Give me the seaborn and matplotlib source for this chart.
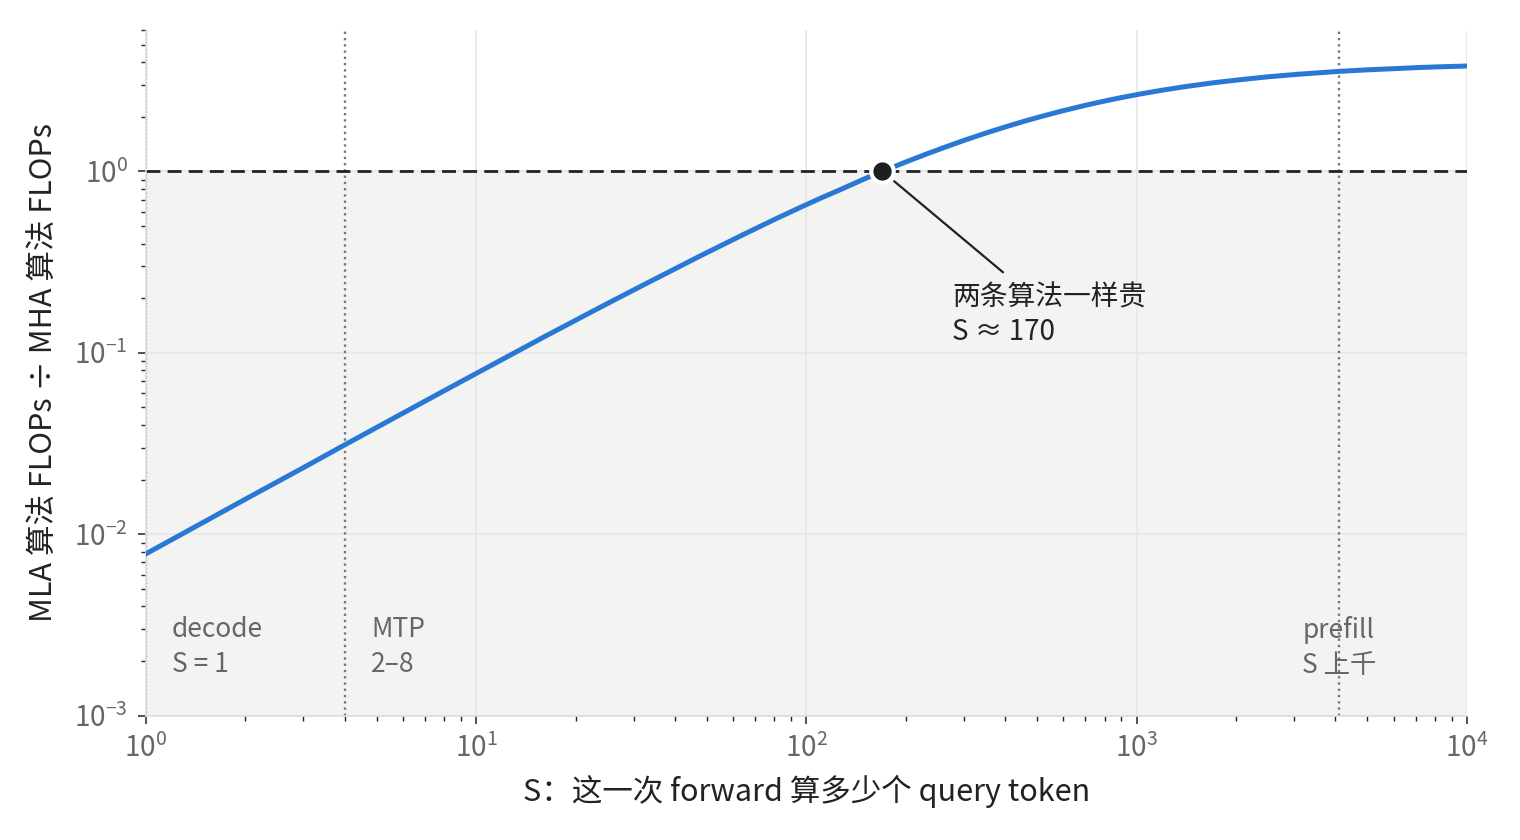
import matplotlib
matplotlib.use("Agg")
import matplotlib.pyplot as plt
import seaborn as sns
import pandas as pd

# S (query tokens per forward) and MLA/MHA FLOPs ratio
s_values = [1, 1.5, 2, 3, 4, 6, 8, 12, 16, 24, 32, 48, 64, 80, 96, 112, 128, 150, 170,
            200, 230, 260, 300, 350, 400, 460, 520, 600, 700, 800, 900, 1024,
            1200, 1400, 1700, 2048, 2500, 3072, 3600, 4096, 5000, 6144, 7200, 8192, 10000]
ratio_values = [0.0078, 0.0117, 0.0156, 0.0233, 0.0311, 0.0465, 0.0618, 0.092, 0.122,
                0.180, 0.236, 0.344, 0.446, 0.543, 0.634, 0.72, 0.80, 0.91, 1.0,
                1.127, 1.243, 1.35, 1.482, 1.628, 1.758, 1.897, 2.019, 2.162, 2.314, 2.443,
                2.553, 2.67, 2.807, 2.932, 3.077, 3.2, 3.323, 3.43, 3.50, 3.56, 3.63, 3.69,
                3.74, 3.77, 3.81]

break_even_s = 170
regime_lines = [1, 4, 4096]
regime_labels = ["decode\nS = 1", "MTP\n2–8", "prefill\nS 上千"]
regime_label_x = [1.2, 4.8, 4096]

df = pd.DataFrame({"S": s_values, "ratio": ratio_values})

sns.set_theme(style="whitegrid")
plt.rcParams["font.family"] = ["Noto Sans CJK SC", "DejaVu Sans"]
plt.rcParams["mathtext.fontset"] = "custom"
plt.rcParams["mathtext.rm"] = "Noto Sans CJK SC"
plt.rcParams["mathtext.it"] = "Noto Sans CJK SC"
plt.rcParams["mathtext.bf"] = "Noto Sans CJK SC"
plt.rcParams["axes.unicode_minus"] = True

fig = plt.figure(figsize=(15.2, 8.4), dpi=100)
ax = fig.add_axes([0.096, 0.148, 0.869, 0.816])
ax.set_facecolor("white")

ax.set_xscale("log")
ax.set_yscale("log")
ax.set_xlim(1, 1e4)
ax.set_ylim(1e-3, 6)

# shaded "MLA cheaper" zone
ax.axhspan(1e-3, 1, color="#f3f3f2", zorder=0)

ax.grid(True, which="major", color="#e6e6e6", linewidth=1.2, zorder=0.5)
ax.grid(False, which="minor")

for x in regime_lines:
    lw = 1.0 if x == 1 else 1.7
    ax.axvline(x, color="#777777", linestyle=":", linewidth=lw, zorder=1)

ax.axhline(1, color="#222222", linestyle=(0, (5, 2.6)), linewidth=2.0, zorder=2)

sns.lineplot(data=df, x="S", y="ratio", ax=ax, color="#2a78d6", linewidth=3.6, zorder=3)

ax.scatter([break_even_s], [1], s=260, color="#1e1e1e", edgecolor="white",
           linewidth=3, zorder=5)
ax.annotate("", xy=(break_even_s, 1), xytext=(394, 0.278),
            arrowprops=dict(arrowstyle="-", color="#222222", lw=1.6, shrinkA=0, shrinkB=11),
            zorder=4)
ax.text(276, 0.243, "两条算法一样贵\nS ≈ 170", ha="left", va="top",
        fontsize=20, color="#222222", linespacing=1.18, zorder=6)

for x, lab in zip(regime_label_x, regime_labels):
    ax.text(x, 0.00355, lab, ha="center" if x > 100 else "left", va="top",
            fontsize=19, color="#666666", linespacing=1.38, zorder=6)

ax.set_xlabel("S：这一次 forward 算多少个 query token", fontsize=22, color="#222222", labelpad=8)
ax.set_ylabel("MLA 算法 FLOPs ÷ MHA 算法 FLOPs", fontsize=22, color="#222222", labelpad=10)

for side in ["top", "right"]:
    ax.spines[side].set_visible(False)
for side in ["left", "bottom"]:
    ax.spines[side].set_color("#dddddd")
    ax.spines[side].set_linewidth(1.2)

ax.tick_params(which="major", direction="out", length=6, width=1.1, color="#222222",
               labelsize=20, labelcolor="#666666", bottom=True, left=True, pad=7)
ax.tick_params(which="minor", direction="out", length=3.5, width=1.0, color="#222222",
               bottom=True, left=True)

fig.savefig("out.png", dpi=100)
